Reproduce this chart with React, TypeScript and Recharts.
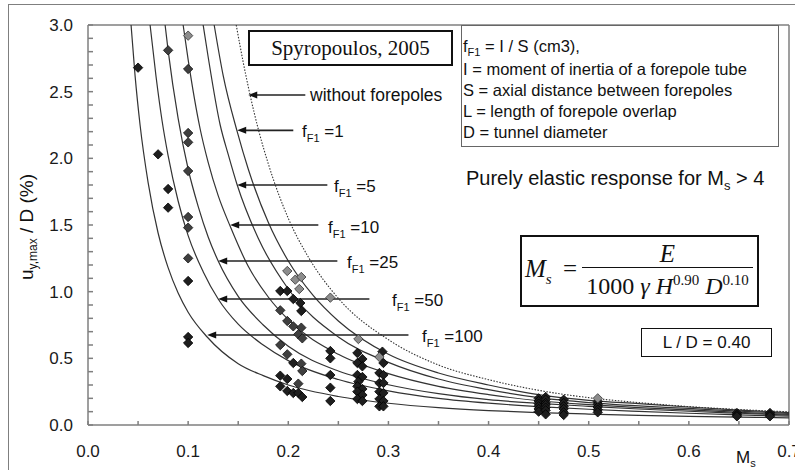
import React from 'react';
import { ComposedChart, Line, Scatter, XAxis, YAxis, ReferenceLine } from 'recharts';

// axis ticks
const msTicks = [0, 0.05, 0.1, 0.15, 0.2, 0.25, 0.3, 0.35, 0.4, 0.45, 0.5, 0.55, 0.6, 0.65, 0.7];
const uTicks = [
  0, 0.1, 0.2, 0.3, 0.4, 0.5, 0.6, 0.7, 0.8, 0.9, 1.0, 1.1, 1.2, 1.3, 1.4, 1.5,
  1.6, 1.7, 1.8, 1.9, 2.0, 2.1, 2.2, 2.3, 2.4, 2.5, 2.6, 2.7, 2.8, 2.9, 3.0,
];

// curves: [Ms, uy,max/D]
const curveNoForepoles = [
  [0.148, 3.0], [0.155, 2.72], [0.162, 2.47], [0.17, 2.22], [0.18, 1.96], [0.2, 1.55],
  [0.22, 1.26], [0.25, 0.95], [0.3, 0.64], [0.35, 0.45], [0.4, 0.34], [0.45, 0.26],
  [0.5, 0.205], [0.55, 0.168], [0.6, 0.138], [0.65, 0.116], [0.7, 0.099],
];
const curveF1 = [
  [0.126, 3.0], [0.135, 2.62], [0.149, 2.2], [0.16, 1.92], [0.18, 1.52], [0.2, 1.23],
  [0.225, 0.97], [0.25, 0.78], [0.3, 0.53], [0.35, 0.39], [0.4, 0.3], [0.45, 0.228],
  [0.5, 0.185], [0.55, 0.16], [0.6, 0.135], [0.65, 0.112], [0.7, 0.093],
];
const curveF5 = [
  [0.115, 3.0], [0.12, 2.76], [0.132, 2.25], [0.14, 2.03], [0.149, 1.8], [0.17, 1.4],
  [0.2, 1.02], [0.25, 0.66], [0.3, 0.47], [0.35, 0.345], [0.4, 0.265], [0.45, 0.205],
  [0.5, 0.168], [0.55, 0.143], [0.6, 0.124], [0.65, 0.104], [0.7, 0.087],
];
const curveF10 = [
  [0.095, 3.0], [0.1, 2.74], [0.112, 2.22], [0.12, 1.97], [0.13, 1.72], [0.142, 1.49],
  [0.16, 1.19], [0.18, 0.96], [0.2, 0.79], [0.25, 0.53], [0.3, 0.385], [0.35, 0.29],
  [0.4, 0.228], [0.45, 0.182], [0.5, 0.153], [0.55, 0.13], [0.6, 0.113], [0.65, 0.095], [0.7, 0.08],
];
const curveF25 = [
  [0.077, 3.0], [0.08, 2.81], [0.09, 2.3], [0.1, 1.92], [0.11, 1.64], [0.12, 1.41],
  [0.13, 1.23], [0.15, 0.965], [0.175, 0.75], [0.2, 0.59], [0.25, 0.405], [0.3, 0.302],
  [0.35, 0.235], [0.4, 0.19], [0.45, 0.162], [0.5, 0.14], [0.55, 0.12], [0.6, 0.103],
  [0.65, 0.088], [0.7, 0.074],
];
const curveF50 = [
  [0.062, 3.0], [0.068, 2.61], [0.074, 2.28], [0.08, 2.02], [0.09, 1.68], [0.1, 1.42],
  [0.115, 1.15], [0.13, 0.945], [0.15, 0.756], [0.175, 0.6], [0.2, 0.483], [0.25, 0.341],
  [0.3, 0.256], [0.35, 0.2], [0.4, 0.164], [0.45, 0.138], [0.5, 0.118], [0.55, 0.102],
  [0.6, 0.088], [0.65, 0.076], [0.7, 0.066],
];
const curveF100 = [
  [0.043, 3.0], [0.047, 2.62], [0.052, 2.25], [0.06, 1.82], [0.07, 1.44], [0.08, 1.18],
  [0.09, 0.99], [0.1, 0.846], [0.119, 0.66], [0.15, 0.46], [0.175, 0.37], [0.2, 0.3],
  [0.25, 0.214], [0.3, 0.163], [0.35, 0.13], [0.4, 0.108], [0.45, 0.093], [0.5, 0.082],
  [0.55, 0.072], [0.6, 0.065], [0.65, 0.059], [0.7, 0.054],
];

// measured points
const blackPts = [
  [0.05, 2.68], [0.07, 2.03], [0.08, 1.77], [0.08, 1.63], [0.1, 1.08], [0.1, 0.66], [0.1, 0.615],
  [0.192, 1.005], [0.199, 1.005], [0.205, 0.945], [0.212, 0.915], [0.213, 0.855], [0.205, 0.465],
  [0.192, 0.37], [0.199, 0.345], [0.192, 0.29], [0.199, 0.255], [0.205, 0.24], [0.21, 0.24], [0.214, 0.21],
  [0.242, 0.555], [0.242, 0.5], [0.242, 0.375], [0.242, 0.28], [0.242, 0.18],
  [0.269, 0.54], [0.274, 0.495], [0.269, 0.465], [0.274, 0.44], [0.269, 0.375], [0.274, 0.36],
  [0.27, 0.325], [0.269, 0.29], [0.274, 0.27], [0.269, 0.25], [0.274, 0.225], [0.269, 0.195], [0.274, 0.18],
  [0.294, 0.55], [0.295, 0.465], [0.291, 0.39], [0.295, 0.375], [0.291, 0.315], [0.295, 0.315],
  [0.291, 0.25], [0.295, 0.24], [0.291, 0.195], [0.295, 0.18], [0.291, 0.14], [0.295, 0.14],
  [0.45, 0.2], [0.45, 0.18], [0.45, 0.16], [0.45, 0.14], [0.45, 0.12], [0.45, 0.1],
  [0.457, 0.21], [0.457, 0.19], [0.457, 0.165], [0.457, 0.15], [0.457, 0.13], [0.457, 0.11], [0.457, 0.08],
  [0.475, 0.19], [0.475, 0.165], [0.475, 0.14], [0.475, 0.12], [0.475, 0.095], [0.475, 0.075],
  [0.509, 0.175], [0.509, 0.155], [0.509, 0.135], [0.509, 0.115], [0.509, 0.095],
  [0.648, 0.09], [0.648, 0.075], [0.648, 0.065], [0.681, 0.09], [0.681, 0.075], [0.681, 0.065],
];
const darkPts = [
  [0.08, 2.81], [0.1, 2.67], [0.1, 2.19], [0.1, 2.12], [0.1, 1.905], [0.1, 1.56], [0.1, 1.48], [0.1, 1.25],
  [0.192, 0.86], [0.199, 0.78], [0.205, 0.74], [0.213, 0.73], [0.21, 0.68], [0.214, 0.65],
  [0.192, 0.6], [0.199, 0.53], [0.213, 0.46], [0.214, 0.405], [0.21, 0.31],
];
const greyPts = [
  [0.1, 2.92], [0.199, 1.155], [0.207, 1.09], [0.213, 1.11], [0.211, 1.02],
  [0.242, 0.955], [0.27, 0.645], [0.291, 0.51], [0.509, 0.2],
];

// arrow annotations: tip on the curve, tail at the label
const arrows = [
  { tip: 0.16, tail: 0.217, u: 2.475 },
  { tip: 0.149, tail: 0.205, u: 2.21 },
  { tip: 0.149, tail: 0.239, u: 1.8 },
  { tip: 0.142, tail: 0.23, u: 1.5 },
  { tip: 0.13, tail: 0.249, u: 1.23 },
  { tip: 0.13, tail: 0.281, u: 0.945 },
  { tip: 0.119, tail: 0.32, u: 0.675 },
];

const toXY = (pts: number[][]) => pts.map(([x, y]) => ({ x, y }));

const SANS = '"Liberation Sans", Arial, sans-serif';
const SERIF = '"Liberation Serif", "Times New Roman", serif';
const AXIS = '#7f7f7f';

const XTick = (props: any) => {
  const { x, y, payload } = props;
  const v = payload.value;
  const major = Math.round(v * 100) % 10 === 0;
  return (
    <g>
      <line x1={x} x2={x} y1={y} y2={y - 4} stroke={AXIS} strokeWidth={1.5} />
      {major && (
        <text x={x} y={y + 32} textAnchor="middle" fontSize={17} fill="#1a1a1a" fontFamily={SANS}>
          {v.toFixed(1)}
        </text>
      )}
    </g>
  );
};

const YTick = (props: any) => {
  const { x, y, payload } = props;
  const v = payload.value;
  const major = Math.round(v * 10) % 5 === 0;
  return (
    <g>
      <line x1={x} x2={x + 5} y1={y} y2={y} stroke={AXIS} strokeWidth={1.5} />
      {major && (
        <text x={x - 15} y={y} dy="0.36em" textAnchor="end" fontSize={17} fill="#1a1a1a" fontFamily={SANS}>
          {v.toFixed(1)}
        </text>
      )}
    </g>
  );
};

const Diamond = (color: string, edge: string) => (props: any) => {
  const { cx, cy } = props;
  const r = 4.7;
  return (
    <polygon
      points={`${cx},${cy - r} ${cx + r},${cy} ${cx},${cy + r} ${cx - r},${cy}`}
      fill={color}
      stroke={edge}
      strokeWidth={0.8}
    />
  );
};

const ArrowShape = (props: any) => {
  const { x1, y1, x2, y2 } = props;
  const tipX = Math.min(x1, x2);
  const tailX = Math.max(x1, x2);
  const y = (y1 + y2) / 2;
  return (
    <g>
      <line x1={tailX} x2={tipX + 6} y1={y} y2={y} stroke="#222" strokeWidth={1.6} />
      <polygon points={`${tipX},${y} ${tipX + 9},${y - 3.5} ${tipX + 9},${y + 3.5}`} fill="#111" />
    </g>
  );
};

const sub = (t: string, size = 11, top = 4) => (
  <span style={{ fontSize: size, position: 'relative', top }}>{t}</span>
);

const Txt = ({ x, y, size = 17, children, font = SANS }: any) => (
  <div
    style={{
      position: 'absolute',
      left: x,
      top: y,
      transform: 'translateY(-50%)',
      fontSize: size,
      fontFamily: font,
      lineHeight: 1,
      whiteSpace: 'nowrap',
      color: '#111',
    }}
  >
    {children}
  </div>
);

const fLabels = [
  { x: 302, y: 131, n: '1' },
  { x: 334, y: 186, n: '5' },
  { x: 328, y: 227, n: '10' },
  { x: 347, y: 262, n: '25' },
  { x: 392, y: 300, n: '50' },
  { x: 422, y: 336, n: '100' },
];

const legendLines = [
  'I = moment of inertia of a forepole tube',
  'S = axial distance between forepoles',
  'L = length of forepole overlap',
  'D = tunnel diameter',
];

const curves = [curveF1, curveF5, curveF10, curveF25, curveF50, curveF100];

export default function App() {
  return (
    <div
      style={{
        position: 'absolute',
        left: 0,
        top: 0,
        width: 795,
        height: 470,
        overflow: 'hidden',
        background: '#fff',
        fontFamily: SANS,
      }}
    >
      {/* outer frame */}
      <div
        style={{
          position: 'absolute',
          left: 8,
          top: 4,
          width: 820,
          height: 500,
          border: `1.5px solid ${AXIS}`,
        }}
      />
      <div style={{ position: 'absolute', left: 0, top: 0 }}>
        <ComposedChart width={795} height={470} margin={{ top: 25, right: 6, bottom: 15, left: 0 }}>
          <XAxis
            type="number"
            dataKey="x"
            domain={[0, 0.7]}
            ticks={msTicks}
            interval={0}
            tickSize={0}
            tickMargin={0}
            tickLine={false}
            tick={<XTick />}
            height={30}
            axisLine={{ stroke: AXIS, strokeWidth: 1.5 }}
          />
          <YAxis
            type="number"
            dataKey="y"
            domain={[0, 3]}
            ticks={uTicks}
            interval={0}
            tickSize={0}
            tickMargin={0}
            tickLine={false}
            tick={<YTick />}
            width={88}
            axisLine={{ stroke: AXIS, strokeWidth: 1.5 }}
          />
          <ReferenceLine y={3} stroke={AXIS} strokeWidth={1.5} />
          <ReferenceLine x={0.7} stroke={AXIS} strokeWidth={1.5} />
          <Line
            data={toXY(curveNoForepoles)}
            dataKey="y"
            type="monotone"
            dot={false}
            stroke="#333"
            strokeWidth={1.1}
            strokeDasharray="1.5 1.5"
            isAnimationActive={false}
          />
          {curves.map((c, i) => (
            <Line
              key={i}
              data={toXY(c)}
              dataKey="y"
              type="monotone"
              dot={false}
              stroke="#333"
              strokeWidth={1.2}
              isAnimationActive={false}
            />
          ))}
          <Scatter data={toXY(blackPts)} dataKey="y" shape={Diamond('#1e1e1e', '#000')} isAnimationActive={false} />
          <Scatter data={toXY(darkPts)} dataKey="y" shape={Diamond('#3f3f3f', '#111')} isAnimationActive={false} />
          <Scatter data={toXY(greyPts)} dataKey="y" shape={Diamond('#8c8c8c', '#333')} isAnimationActive={false} />
          {arrows.map((a, i) => (
            <ReferenceLine
              key={`a${i}`}
              segment={[
                { x: a.tail, y: a.u },
                { x: a.tip, y: a.u },
              ]}
              shape={ArrowShape}
            />
          ))}
        </ComposedChart>
      </div>

      {/* y axis title */}
      <svg width={795} height={470} style={{ position: 'absolute', left: 0, top: 0, pointerEvents: 'none' }}>
        <text
          transform="translate(33, 227) rotate(-90)"
          textAnchor="middle"
          fontFamily={SANS}
          fontSize={19}
          fill="#111"
        >
          <tspan>u</tspan>
          <tspan fontSize={12} dy={4}>y,max</tspan>
          <tspan dy={-4}>{'  /  D (%)'}</tspan>
        </text>
      </svg>

      {/* annotation boxes */}
      <div
        style={{
          position: 'absolute',
          left: 248,
          top: 30,
          width: 201,
          height: 32,
          border: '2px solid #111',
          fontFamily: SERIF,
          fontSize: 21,
          lineHeight: '32px',
          textAlign: 'center',
          color: '#111',
        }}
      >
        Spyropoulos, 2005
      </div>

      <div
        style={{
          position: 'absolute',
          left: 461,
          top: 25,
          width: 316,
          height: 120,
          border: '1.5px solid #666',
        }}
      />
      <Txt x={463} y={46} size={16.5}>
        f{sub('F1', 11, 4)} = I / S (cm3),
      </Txt>
      {legendLines.map((t, i) => (
        <Txt key={t} x={463} y={69 + i * 21} size={16.5}>
          {t}
        </Txt>
      ))}

      <Txt x={310} y={96} size={17.5}>
        without forepoles
      </Txt>
      {fLabels.map((f) => (
        <Txt key={f.n} x={f.x} y={f.y} size={17}>
          f{sub('F1', 11, 5)} ={f.n}
        </Txt>
      ))}

      <Txt x={466} y={178} size={20}>
        Purely elastic response for M{sub('s', 13, 5)} &gt; 4
      </Txt>

      {/* Ms formula */}
      <div
        style={{
          position: 'absolute',
          left: 520,
          top: 235,
          width: 235,
          height: 68,
          border: '2px solid #111',
        }}
      />
      <Txt x={525} y={268} size={25} font={SERIF}>
        <i>M</i>
        <i style={{ fontSize: 15, position: 'relative', top: 7 }}>s</i>
      </Txt>
      <Txt x={563} y={268} size={25} font={SERIF}>
        =
      </Txt>
      <div style={{ position: 'absolute', left: 582, top: 267, width: 171, height: 1, background: '#111' }} />
      <div
        style={{
          position: 'absolute',
          left: 582,
          width: 171,
          top: 241,
          textAlign: 'center',
          fontFamily: SERIF,
          fontSize: 25,
          lineHeight: 1,
          fontStyle: 'italic',
          color: '#111',
        }}
      >
        E
      </div>
      <div
        style={{
          position: 'absolute',
          left: 582,
          width: 171,
          top: 274,
          textAlign: 'center',
          fontFamily: SERIF,
          fontSize: 24,
          lineHeight: 1,
          whiteSpace: 'nowrap',
          color: '#111',
        }}
      >
        1000 <i>γ</i> <i>H</i>
        <span style={{ fontSize: 15, position: 'relative', top: -9 }}>0.90</span> <i>D</i>
        <span style={{ fontSize: 15, position: 'relative', top: -9 }}>0.10</span>
      </div>

      <div
        style={{
          position: 'absolute',
          left: 641,
          top: 328,
          width: 129,
          height: 27,
          border: '1.5px solid #111',
          fontSize: 17,
          lineHeight: '27px',
          textAlign: 'center',
          color: '#111',
        }}
      >
        L / D = 0.40
      </div>

      <Txt x={736} y={457} size={17}>
        M{sub('s', 11, 4)}
      </Txt>
    </div>
  );
}
